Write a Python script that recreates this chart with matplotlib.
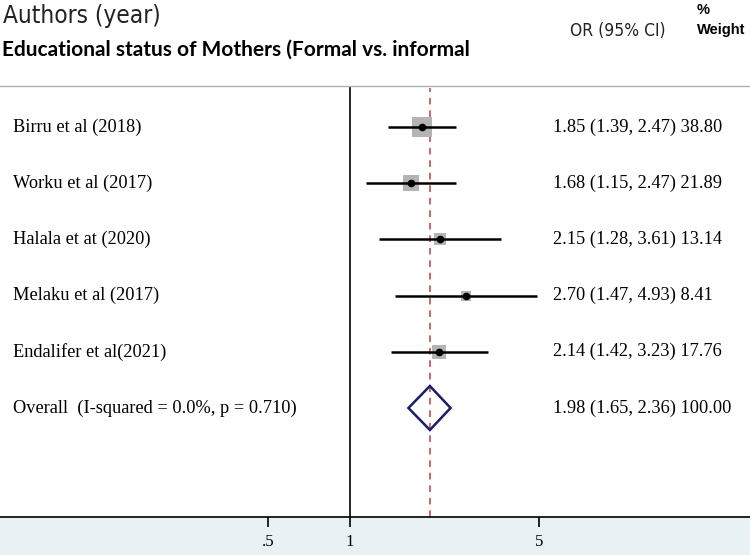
import numpy as np
import matplotlib
matplotlib.use("Agg")
import matplotlib.pyplot as plt
from matplotlib.patches import Polygon, Rectangle

# study level data
studies = ["Birru et al (2018)", "Worku et al (2017)", "Halala et at (2020)",
           "Melaku et al (2017)", "Endalifer et al(2021)"]
odds    = [1.85, 1.68, 2.15, 2.70, 2.14]
ci_low  = [1.39, 1.15, 1.28, 1.47, 1.42]
ci_high = [2.47, 2.47, 3.61, 4.93, 3.23]
weights = [38.80, 21.89, 13.14, 8.41, 17.76]

# pooled estimate
overall_label = "Overall  (I-squared = 0.0%, p = 0.710)"
overall_or, overall_lo, overall_hi = 1.98, 1.65, 2.36

xticks      = [0.5, 1, 5]
xticklabels = [".5", "1", "5"]

W, H, DPI = 750, 555, 100
SERIF = ["Liberation Serif", "DejaVu Serif"]

fig = plt.figure(figsize=(W / DPI, H / DPI), dpi=DPI)
fig.patch.set_facecolor("white")
fig.patches.append(Rectangle((0, 0), 1, 38 / H, transform=fig.transFigure,
                             color="#e8f1f3", zorder=-5))

ax = fig.add_axes([0, 38 / H, 1, (517 - 86) / H])
ax.set_xscale("log")
ax.set_xlim(np.exp(-349.5 / 117.7), np.exp(400.5 / 117.7))
ax.set_ylim(6.94, -0.73)

for s in ["left", "right"]:
    ax.spines[s].set_visible(False)
ax.spines["top"].set_color("#b0b0b0")
ax.spines["top"].set_linewidth(1.0)
ax.spines["bottom"].set_color("black")
ax.spines["bottom"].set_linewidth(1.2)

ax.set_yticks([])
ax.set_xticks(xticks)
ax.set_xticklabels(xticklabels, fontfamily=SERIF, fontsize=12)
ax.xaxis.set_minor_locator(matplotlib.ticker.NullLocator())
ax.tick_params(axis="x", direction="out", length=7, width=1.2, pad=5)

ax.axvline(1, color="black", lw=1.2, zorder=2)
ax.axvline(overall_or, ymax=0.995, color="#c0504d", lw=1.2,
           dashes=(4, 3.5), zorder=2)

rows = np.arange(len(studies))
for i in rows:
    side = 3.21 * np.sqrt(weights[i]) * 72 / DPI
    ax.plot(odds[i], i, marker="s", ms=side, color="#b4b4b4",
            markeredgewidth=0, zorder=3)
    ax.hlines(i, ci_low[i], ci_high[i], color="black", lw=1.8, zorder=4)
    ax.plot(odds[i], i, marker="o", ms=4.5, color="black", zorder=5)
    ax.text(13 / W, i, studies[i], transform=ax.get_yaxis_transform(),
            fontfamily=SERIF, fontsize=13.2, va="center", ha="left")
    ax.text(553 / W, i, f"{odds[i]:.2f} ({ci_low[i]:.2f}, {ci_high[i]:.2f}) {weights[i]:.2f}",
            transform=ax.get_yaxis_transform(), fontfamily=SERIF,
            fontsize=13.2, va="center", ha="left")

yo = len(studies)
h = 22 / 56.2
ax.add_patch(Polygon([(overall_lo, yo), (overall_or, yo - h),
                      (overall_hi, yo), (overall_or, yo + h)],
                     closed=True, fill=False, edgecolor="#1c1c6b", lw=1.8,
                     zorder=4))
ax.text(13 / W, yo, overall_label, transform=ax.get_yaxis_transform(),
        fontfamily=SERIF, fontsize=13.2, va="center", ha="left")
ax.text(553 / W, yo, f"{overall_or:.2f} ({overall_lo:.2f}, {overall_hi:.2f}) 100.00",
        transform=ax.get_yaxis_transform(), fontfamily=SERIF,
        fontsize=13.2, va="center", ha="left")

# header texts
fig.text(3 / W, 1 - 16 / H, "Authors (year)", fontfamily="DejaVu Sans",
         fontstretch="condensed", fontsize=17.5, va="center", ha="left",
         color="#222222")
fig.text(2 / W, 1 - 50 / H, "Educational status of Mothers (Formal vs. informal",
         fontfamily=["Lato", "DejaVu Sans"], fontweight="bold", fontsize=15,
         va="center", ha="left", color="black")
fig.text(570 / W, 1 - 31 / H, "OR (95% CI)", fontfamily="DejaVu Sans",
         fontstretch="condensed", fontsize=12.5, va="center", ha="left",
         color="#222222")
fig.text(697 / W, 1 - 10 / H, "%", fontfamily=["Liberation Sans", "DejaVu Sans"],
         fontweight="bold", fontsize=10.5, va="center", ha="left")
fig.text(697 / W, 1 - 30 / H, "Weight", fontfamily=["Liberation Sans", "DejaVu Sans"],
         fontweight="bold", fontsize=10.5, va="center", ha="left")

fig.savefig("out.png", dpi=DPI)
